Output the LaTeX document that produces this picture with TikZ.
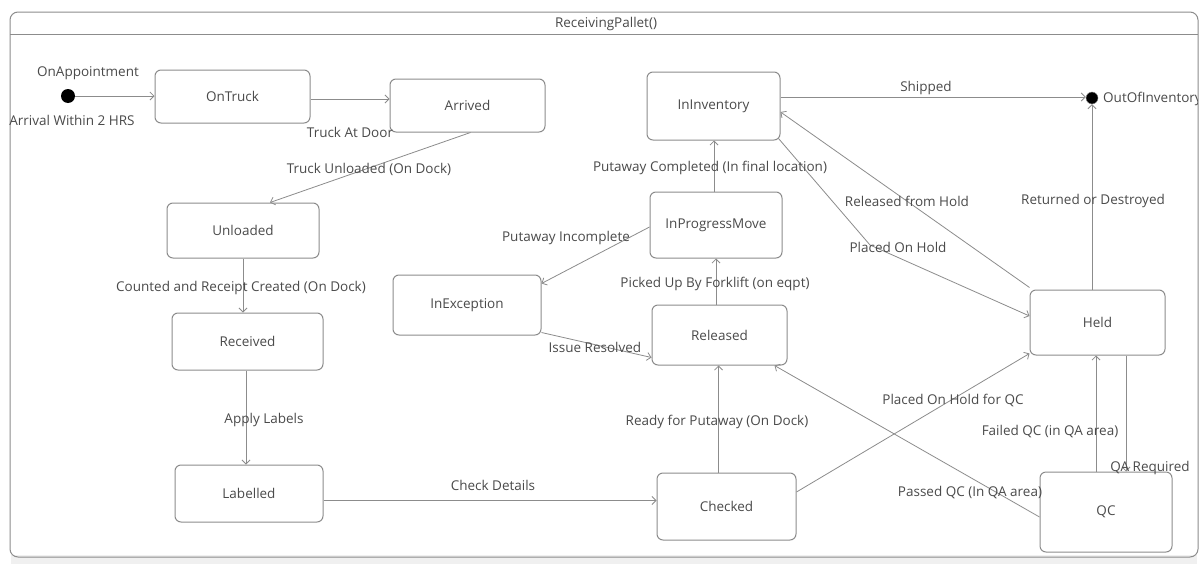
\documentclass[tikz,border=0pt]{standalone}
\usepackage{fontspec}
\setmainfont{Open Sans}
\usetikzlibrary{arrows.meta}
\definecolor{ln}{HTML}{8C8C8C}
\definecolor{tx}{HTML}{4A4A4A}
\begin{document}
\begin{tikzpicture}[x=1pt,y=-1pt,
  state/.style={draw=ln, line width=1pt, rounded corners=6pt, fill=white, text=tx,
    font=\fontsize{13.5}{15}\selectfont, inner sep=0pt},
  lbl/.style={text=tx, font=\fontsize{13.5}{15}\selectfont, inner sep=1pt},
  tr/.style={draw=ln, line width=0.8pt, -{Straight Barb[length=4pt,width=8pt]}},
]
\useasboundingbox (0,0) rectangle (1200,565);
\fill[white] (0,0) rectangle (1200,565);
% frame
\fill[gray!12] (11,555) rectangle (1197,564);
\draw[ln, line width=1pt, rounded corners=8pt] (10,12) rectangle (1198,557);
\draw[ln, line width=1pt] (10,34) -- (1198,34);
\node[lbl] (title) at (606,24) {ReceivingPallet()};

% states
\node[circle, fill=black, minimum size=14pt, inner sep=0pt] (init) at (68,96) {};
\node[circle, fill=black, draw=ln, minimum size=12pt, inner sep=0pt] (fin) at (1092,98) {};
\node[state, minimum width=155pt, minimum height=53pt] (OnTruck) at (232.5,96.5) {OnTruck};
\node[state, minimum width=155pt, minimum height=53pt] (Arrived) at (467.5,105.5) {Arrived};
\node[state, minimum width=133pt, minimum height=68pt] (InInventory) at (713.5,106) {InInventory};
\node[state, minimum width=152pt, minimum height=55pt] (Unloaded) at (243,230.5) {Unloaded};
\node[state, minimum width=132pt, minimum height=66pt] (InProgressMove) at (716,225) {InProgressMove};
\node[state, minimum width=148pt, minimum height=60pt] (InException) at (467,305) {InException};
\node[state, minimum width=151pt, minimum height=57pt] (Received) at (247.5,341.5) {Received};
\node[state, minimum width=135pt, minimum height=60pt] (Released) at (719.5,335) {Released};
\node[state, minimum width=135pt, minimum height=65pt] (Held) at (1097.5,322.5) {Held};
\node[state, minimum width=148pt, minimum height=57pt] (Labelled) at (249,493.5) {Labelled};
\node[state, minimum width=139pt, minimum height=67pt] (Checked) at (726.5,506.5) {Checked};
\node[state, minimum width=132pt, minimum height=80pt] (QC) at (1106,512) {QC};

% transitions
\draw[tr] (init) -- (OnTruck.west |- init);
\draw[tr] ([yshift=-2.5pt]OnTruck.east) -- ([yshift=-2.5pt]OnTruck.east -| Arrived.west);
\draw[tr] ([xshift=3pt]Arrived.south) -- ([xshift=27pt]Unloaded.north);
\draw[tr] (Unloaded.south) -- (Unloaded.south |- Received.north);
\draw[tr] ([xshift=-1.5pt]Received.south) -- ([xshift=-1.5pt]Received.south |- Labelled.north);
\draw[tr] ([yshift=-7pt]Labelled.east) -- ([yshift=-7pt]Labelled.east -| Checked.west);
\draw[tr] ([xshift=-8pt]Checked.north) -- ([xshift=-8pt]Checked.north |- Released.south);
\draw[tr] (InProgressMove.south |- Released.north) -- (InProgressMove.south);
\draw[tr] ([xshift=-2pt]InProgressMove.north) -- ([xshift=-2pt]InProgressMove.north |- InInventory.south);
\draw[tr] ([yshift=-2pt]InProgressMove.west) -- ([yshift=-9pt]InException.north east);
\draw[tr] ([yshift=3pt]InException.south east) -- ([yshift=8pt]Released.south west);
\draw[tr] ([yshift=9pt]InInventory.east) -- ([yshift=9pt]InInventory.east -| fin.west);
\coordinate (bend) at (870,245);
\draw[tr] ([xshift=-2pt,yshift=2pt]InInventory.south east) -- (bend) -- ([yshift=6.5pt]Held.west);
\draw[tr] ([yshift=2pt]Held.north west) -- ([yshift=-6pt]InInventory.east);
\draw[tr] (Held.north -| fin) -- (fin.south);
\draw[tr] ([yshift=14.5pt]Checked.east) -- ([yshift=2pt]Held.south west);
\draw[tr] ([yshift=-5pt]QC.west) -- ([xshift=-13pt]Released.south east);
\draw[tr] ([xshift=-10pt]QC.north) -- ([xshift=-10pt]QC.north |- Held.south);
\draw[tr] ([xshift=28.5pt]Held.south) -- ([xshift=28.5pt]Held.south |- QC.north);

% labels
\node[lbl] (l1) at (88,73) {OnAppointment};
\node[lbl] (l2) at (72,120) {Arrival Within 2 HRS};
\node[lbl] (l3) at (350,132) {Truck At Door};
\node[lbl] (l4) at (369,169) {Truck Unloaded (On Dock)};
\node[lbl] (l5) at (241,288) {Counted and Receipt Created (On Dock)};
\node[lbl] (l6) at (264,420) {Apply Labels};
\node[lbl] (l7) at (493,485) {Check Details};
\node[lbl] (l8) at (717,422) {Ready for Putaway (On Dock)};
\node[lbl] (l9) at (715,284) {Picked Up By Forklift (on eqpt)};
\node[lbl] (l10) at (710,168) {Putaway Completed (In final location)};
\node[lbl] (l11) at (566,238) {Putaway Incomplete};
\node[lbl] (l12) at (595,347) {Issue Resolved};
\node[lbl] (l13) at (926,88) {Shipped};
\node[lbl] (l14) at (907,201) {Released from Hold};
\node[lbl] (l15) at (898,247) {Placed On Hold};
\node[lbl] (l16) at (1093,201) {Returned or Destroyed};
\node[lbl] (l17) at (953,400) {Placed On Hold for QC};
\node[lbl] (l18) at (1050,432) {Failed QC (in QA area)};
\node[lbl] (l19) at (970,493) {Passed QC (In QA area)};
\node[lbl] (l20) at (1150,468) {QA Required};
\begin{scope}
\clip (10,12) rectangle (1197,557);
\node[lbl, anchor=west] (l21) at (1102,99) {OutOfInventory};
\end{scope}
\end{tikzpicture}
\end{document}
